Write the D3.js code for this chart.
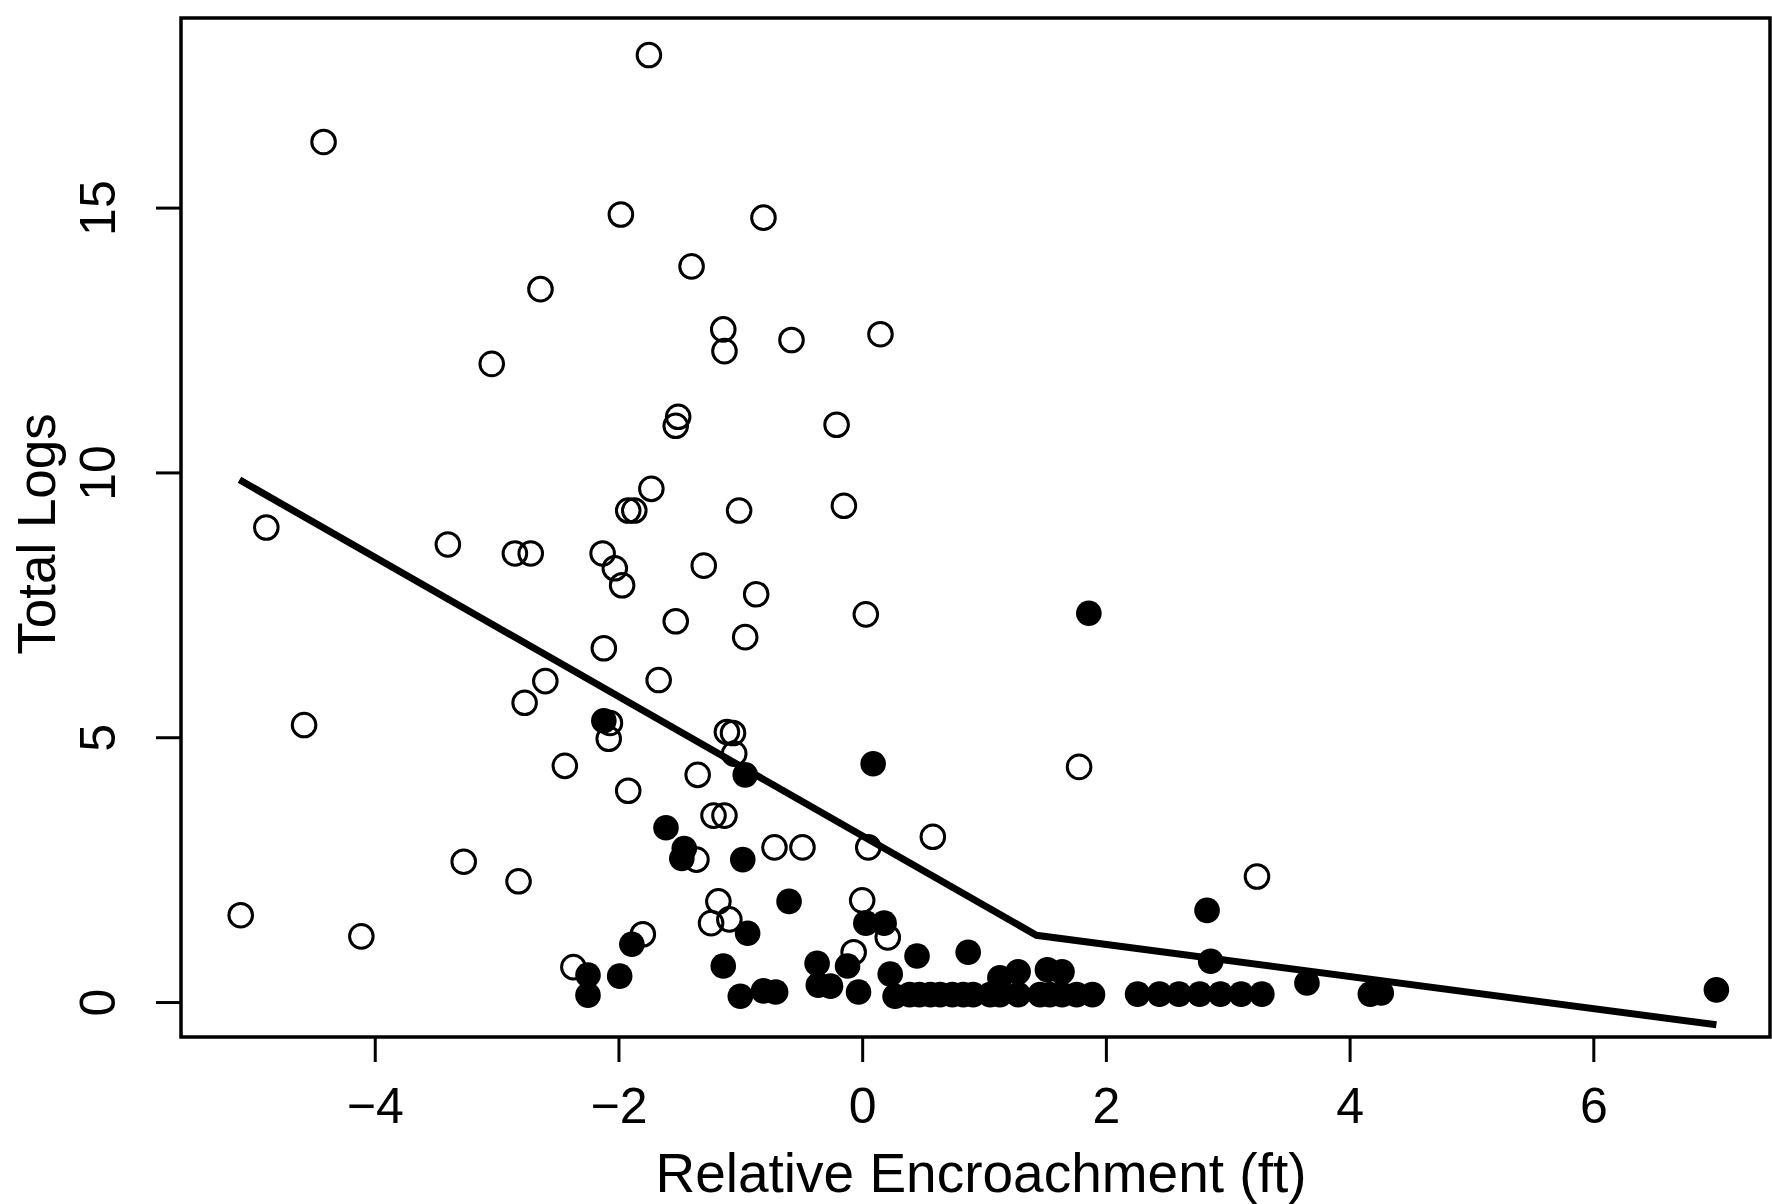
<!DOCTYPE html>
<html>
<head>
<meta charset="utf-8">
<script src="https://cdn.jsdelivr.net/npm/d3@7/dist/d3.min.js"></script>
<style>
  body { margin: 0; background: #fff; }
  text { font-family: "Liberation Sans", Arial, sans-serif; fill: #000; }
</style>
</head>
<body>
<script>
// open circles
var openX = [-1.75, -4.42, -1.98, -0.81, -1.40, -2.64, -1.14, -1.13, -0.58, 0.15,
  -3.04, -1.51, -1.53, -0.21, -1.73, -1.92, -1.87, -1.01, -0.15, -4.89,
  -3.40, -2.85, -2.72, -2.13, -2.03, -1.97, -1.30, -0.87, 0.03, -1.53,
  -0.96, -2.12, -1.67, -2.60, -2.77, -4.58, -2.07, -2.08, -1.11, -1.06,
  -1.05, -2.44, 1.78, -1.35, -1.92, -1.22, -1.13, -0.72, -0.49, 0.05,
  0.58, -1.36, -3.27, -2.82, 3.24, -5.10, -4.11, -1.18, 0.00, -1.24,
  -1.09, -1.80, 0.21, -2.37, -0.07];
var openY = [17.88, 16.24, 14.87, 14.81, 13.89, 13.46, 12.70, 12.29, 12.50, 12.61,
  12.05, 11.05, 10.88, 10.90, 9.69, 9.28, 9.28, 9.28, 9.37, 8.96,
  8.64, 8.47, 8.47, 8.47, 8.19, 7.87, 8.24, 7.70, 7.32, 7.19,
  6.89, 6.68, 6.08, 6.06, 5.65, 5.23, 5.27, 4.97, 5.10, 5.08,
  4.69, 4.46, 4.44, 4.29, 3.99, 3.52, 3.52, 2.92, 2.92, 2.92,
  3.12, 2.69, 2.65, 2.28, 2.37, 1.64, 1.24, 1.90, 1.92, 1.49,
  1.56, 1.28, 1.22, 0.66, 0.94];

// filled circles
var filledX = [1.86, -2.12, 0.09, -0.96, -1.61, -1.46, -1.48, -0.98, -0.60, 2.83,
  0.03, 0.18, -0.94, -1.89, 0.45, 0.87, -1.14, -0.37, -0.12, 2.86,
  -2.25, -1.99, 0.23, -2.25, -1.00, -0.81, -0.71, -0.36, -0.26, -0.03,
  0.27, 0.39, 0.47, 0.56, 0.64, 0.74, 0.83, 0.91, 1.05, 1.13,
  1.28, 1.46, 1.54, 1.64, 1.76, 1.89, 1.13, 1.28, 1.52, 1.64,
  2.26, 2.44, 2.60, 2.77, 2.94, 3.11, 3.28, 3.65, 4.17, 4.26,
  7.01];
var filledY = [7.34, 5.31, 4.50, 4.29, 3.29, 2.90, 2.71, 2.69, 1.90, 1.73,
  1.49, 1.49, 1.30, 1.09, 0.87, 0.94, 0.68, 0.73, 0.68, 0.77,
  0.51, 0.49, 0.53, 0.13, 0.11, 0.21, 0.19, 0.32, 0.30, 0.19,
  0.11, 0.14, 0.14, 0.14, 0.14, 0.14, 0.14, 0.14, 0.14, 0.14,
  0.14, 0.14, 0.14, 0.14, 0.14, 0.14, 0.46, 0.57, 0.61, 0.57,
  0.15, 0.15, 0.15, 0.15, 0.15, 0.15, 0.15, 0.36, 0.15, 0.17,
  0.23];

// fitted broken-stick line
var lineX = [-5.11, 1.43, 7.01];
var lineY = [9.86, 1.26, -0.43];

var xTicks = [-4, -2, 0, 2, 4, 6];
var yTicks = [0, 5, 10, 15];

var width = 1772, height = 1204;
var box = {left: 181, top: 18, right: 1770, bottom: 1037};

var x = d3.scaleLinear().domain([-5.59, 7.45]).range([box.left, box.right]);
var y = d3.scaleLinear().domain([-0.66, 18.58]).range([box.bottom, box.top]);

var svg = d3.select("body").append("svg")
    .attr("width", width)
    .attr("height", height);

svg.append("rect")
    .attr("width", width)
    .attr("height", height)
    .attr("fill", "#fff");

var minus = function(d) { return d < 0 ? "\u2212" + Math.abs(d) : d; };

// x axis
var gx = svg.append("g")
    .attr("transform", "translate(0," + box.bottom + ")")
    .call(d3.axisBottom(x).tickValues(xTicks).tickSize(25).tickPadding(25).tickFormat(minus));
gx.select(".domain").remove();
gx.selectAll(".tick line").attr("stroke", "#000").attr("stroke-width", 3);
gx.selectAll(".tick text")
    .style("font-size", "50px")
    .style("font-family", "'Liberation Sans', Arial, sans-serif");

// y axis, labels turned like R's default las=0
var gy = svg.append("g")
    .attr("transform", "translate(" + box.left + ",0)")
    .call(d3.axisLeft(y).tickValues(yTicks).tickSize(25));
gy.select(".domain").remove();
gy.selectAll(".tick line").attr("stroke", "#000").attr("stroke-width", 3);
gy.selectAll(".tick text")
    .attr("transform", "rotate(-90)")
    .attr("x", 0)
    .attr("y", -66)
    .attr("dy", 0)
    .attr("text-anchor", "middle")
    .style("font-size", "50px")
    .style("font-family", "'Liberation Sans', Arial, sans-serif");

svg.append("text")
    .attr("transform", "translate(55,534) rotate(-90)")
    .attr("text-anchor", "middle")
    .style("font-size", "53px")
    .text("Total Logs");

svg.append("text")
    .attr("x", 981)
    .attr("y", 1192)
    .attr("text-anchor", "middle")
    .style("font-size", "55px")
    .text("Relative Encroachment (ft)");

var open = d3.range(openX.length).map(function(i) { return [openX[i], openY[i]]; });
var filled = d3.range(filledX.length).map(function(i) { return [filledX[i], filledY[i]]; });

svg.append("g").selectAll("circle")
    .data(open)
  .enter().append("circle")
    .attr("cx", function(d) { return x(d[0]); })
    .attr("cy", function(d) { return y(d[1]); })
    .attr("r", 11.8)
    .attr("fill", "none")
    .attr("stroke", "#000")
    .attr("stroke-width", 3);

svg.append("g").selectAll("circle")
    .data(filled)
  .enter().append("circle")
    .attr("cx", function(d) { return x(d[0]); })
    .attr("cy", function(d) { return y(d[1]); })
    .attr("r", 12.8)
    .attr("fill", "#000");

var line = d3.line()
    .x(function(d, i) { return x(lineX[i]); })
    .y(function(d, i) { return y(lineY[i]); });

svg.append("path")
    .datum(lineX)
    .attr("d", line)
    .attr("fill", "none")
    .attr("stroke", "#000")
    .attr("stroke-width", 7);

// plot frame
svg.append("rect")
    .attr("x", box.left)
    .attr("y", box.top)
    .attr("width", box.right - box.left)
    .attr("height", box.bottom - box.top)
    .attr("fill", "none")
    .attr("stroke", "#000")
    .attr("stroke-width", 3.5);
</script>
</body>
</html>
